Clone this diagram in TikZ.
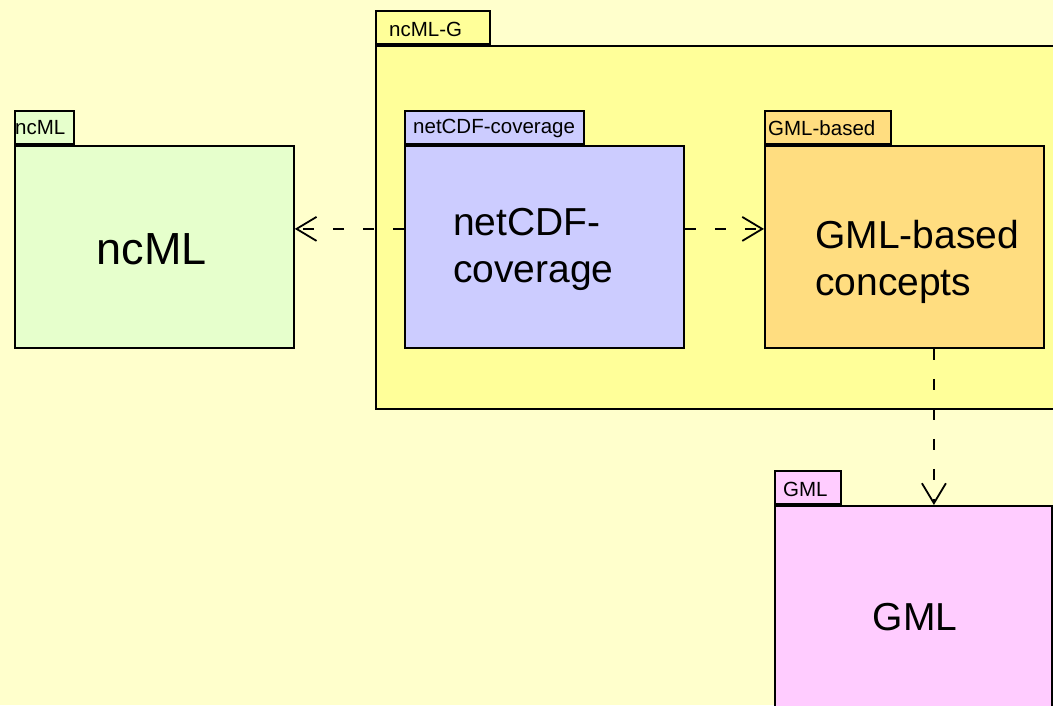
\documentclass[tikz,border=0pt]{standalone}
\usepackage{fontspec}
\setmainfont{Liberation Sans}
\usepackage{xcolor}
\usetikzlibrary{arrows.meta}

\definecolor{bgyellow}{HTML}{FFFFCC}
\definecolor{ncmlgyellow}{HTML}{FFFF99}
\definecolor{ncmlgreen}{HTML}{E6FFCC}
\definecolor{netcdfblue}{HTML}{CCCCFF}
\definecolor{gmlorange}{HTML}{FFDD80}
\definecolor{gmlpink}{HTML}{FFCCFF}

\tikzset{
  pkgbody/.style={draw=black, line width=1.8pt, anchor=north west, inner sep=0pt},
  pkgtab/.style={draw=black, line width=1.8pt, anchor=south west, inner sep=0pt, minimum height=33pt},
  tabtext/.style={anchor=west, inner sep=0pt, font=\fontsize{20.5}{24}\selectfont},
  bigtext/.style={inner sep=0pt, align=left, font=\fontsize{39}{47}\selectfont},
  depend/.style={line width=1.8pt, dash pattern=on 11pt off 19pt, -{Straight Barb[length=20pt,width=24pt]}}
}

\begin{document}
\begin{tikzpicture}[x=1pt,y=-1pt]
			% Nen
			\useasboundingbox (0,0) rectangle (1053,705);
			\fill[bgyellow] (0,0) rectangle (1053,705);
			\clip (0,0) rectangle (1053,705);
			% Goi ncML-G
			\node[pkgbody, fill=ncmlgyellow, minimum width=700pt, minimum height=363pt] (ncmlg) at (375,45) {};
			\node[pkgtab, fill=ncmlgyellow, minimum width=114pt] (ncmlgtab) at (375,45) {};
			\node[tabtext] (ncmlglabel) at (389,29) {ncML-G};
			% Goi ncML
			\node[pkgbody, fill=ncmlgreen, minimum width=279pt, minimum height=202pt] (ncml) at (14,145) {};
			\node[pkgtab, fill=ncmlgreen, minimum width=59pt] (ncmltab) at (14,145) {};
			\node[tabtext] (ncmllabel) at (15,128) {ncML};
			\node[bigtext, font=\fontsize{45}{54}\selectfont] (ncmltext) at (151.5,249) {ncML};
			% Goi netCDF-coverage
			\node[pkgbody, fill=netcdfblue, minimum width=279pt, minimum height=202pt] (netcdf) at (404,145) {};
			\node[pkgtab, fill=netcdfblue, minimum width=179pt] (netcdftab) at (404,145) {};
			\node[tabtext] (netcdflabel) at (413,128) {netCDF-coverage};
			\node[bigtext, anchor=west] (netcdftext) at (453,249) {netCDF-\\coverage};
			% Goi GML-based
			\node[pkgbody, fill=gmlorange, minimum width=279pt, minimum height=202pt] (gmlbased) at (764,145) {};
			\node[pkgtab, fill=gmlorange, minimum width=126pt] (gmlbasedtab) at (764,145) {};
			\node[tabtext] (gmlbasedlabel) at (768,128) {GML-based};
			\node[bigtext, anchor=west] (gmlbasedtext) at (815,262) {GML-based\\concepts};
			% Goi GML
			\node[pkgbody, fill=gmlpink, minimum width=277pt, minimum height=215pt] (gml) at (774,505) {};
			\node[pkgtab, fill=gmlpink, minimum width=66pt] (gmltab) at (774,505) {};
			\node[tabtext] (gmllabel) at (783,489) {GML};
			\node[bigtext] (gmltext) at (915,617) {GML};
			% Phu thuoc
			\draw[depend] ([yshift=18pt]netcdf.west) -- ([yshift=18pt]ncml.east);
			\draw[depend] ([yshift=18pt]netcdf.east) -- ([yshift=18pt]gmlbased.west);
			\draw[depend] ([xshift=29.5pt]gmlbased.south) -- ([xshift=20.5pt]gml.north);
		\end{tikzpicture}
\end{document}
